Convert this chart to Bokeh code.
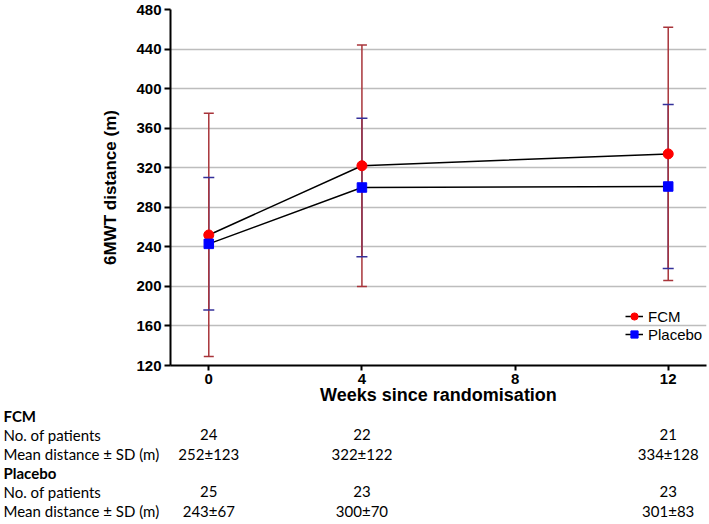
from bokeh.plotting import figure
from bokeh.models import Range1d, FixedTicker, Legend, LegendItem
from bokeh.layouts import column
from bokeh.embed import file_html
from bokeh.resources import INLINE
from bokeh.core.properties import value

# ---- data ----
weeks = [0, 4, 12]
fcm_mean = [252, 322, 334]
fcm_sd = [123, 122, 128]
fcm_n = [24, 22, 21]
pla_mean = [243, 300, 301]
pla_sd = [67, 70, 83]
pla_n = [25, 23, 23]
x_ticks = [0, 4, 8, 12]
y_ticks = [120, 160, 200, 240, 280, 320, 360, 400, 440, 480]
row_labels = ["FCM", "No. of patients", "Mean distance \u00b1 SD (m)",
              "Placebo", "No. of patients", "Mean distance \u00b1 SD  (m)"]
series_names = ["FCM", "Placebo"]

FCM_ERR = "#a8343a"
PLA_ERR = "#34309a"
AX_FONT = "Liberation Sans"
TB_FONT = "Lato"

fcm_lo = [m - s for m, s in zip(fcm_mean, fcm_sd)]
fcm_hi = [m + s for m, s in zip(fcm_mean, fcm_sd)]
pla_lo = [m - s for m, s in zip(pla_mean, pla_sd)]
pla_hi = [m + s for m, s in zip(pla_mean, pla_sd)]

X0, X1 = -1, 13
Y0, Y1 = 120, 480
FW, FH = 536, 356
BL, BR, BT, BB = 170, 3, 9, 40
W = BL + FW + BR
TH = 524 - (BT + FH + BB)

p = figure(frame_width=FW, frame_height=FH, min_border_left=BL, min_border_right=BR,
           min_border_top=BT, min_border_bottom=BB,
           x_range=Range1d(X0, X1), y_range=Range1d(Y0, Y1),
           output_backend="svg", toolbar_location=None)
p.frame_align = False
p.outline_line_color = None
p.background_fill_color = "white"

# grid
p.xgrid.visible = False
p.ygrid.ticker = FixedTicker(ticks=y_ticks)
p.ygrid.grid_line_color = "#bdbdbd"
p.ygrid.grid_line_width = 1.3

# axes
for ax in (p.xaxis[0], p.yaxis[0]):
    ax.axis_line_width = 2
    ax.axis_line_color = "black"
    ax.major_tick_line_width = 2
    ax.major_tick_line_color = "black"
    ax.major_tick_in = 0
    ax.minor_tick_line_color = None
    ax.major_label_text_font = AX_FONT
    ax.major_label_text_font_style = "bold"
    ax.major_label_text_font_size = "15px"
    ax.major_label_text_color = "black"
    ax.axis_label_text_font = AX_FONT
    ax.axis_label_text_font_style = "bold"
    ax.axis_label_text_color = "black"

p.xaxis.ticker = FixedTicker(ticks=x_ticks)
p.xaxis.major_tick_out = 5
p.xaxis.major_label_standoff = 3
p.xaxis.axis_label = "Weeks since randomisation"
p.xaxis.axis_label_standoff = -2
p.xaxis.axis_label_text_font_size = "18px"

p.yaxis.ticker = FixedTicker(ticks=y_ticks)
p.yaxis.major_tick_out = 6
p.yaxis.major_label_standoff = 3
p.yaxis.axis_label = "6MWT distance (m)"
p.yaxis.axis_label_standoff = 13
p.yaxis.axis_label_text_font_size = "17px"

# error bars
p.segment(x0=weeks, y0=pla_lo, x1=weeks, y1=pla_hi, line_color=PLA_ERR, line_width=1.5)
p.segment(x0=weeks, y0=fcm_lo, x1=weeks, y1=fcm_hi, line_color=FCM_ERR, line_width=1.5)
p.scatter(x=weeks + weeks, y=pla_lo + pla_hi, marker="dash", size=11,
          line_color=PLA_ERR, line_width=1.5)
p.scatter(x=weeks + weeks, y=fcm_lo + fcm_hi, marker="dash", size=10,
          line_color=FCM_ERR, line_width=1.5)

# mean lines and markers
l1 = p.line(x=weeks, y=fcm_mean, line_color="black", line_width=1.5)
l2 = p.line(x=weeks, y=pla_mean, line_color="black", line_width=1.5)
m1 = p.scatter(x=weeks, y=fcm_mean, marker="circle", size=10,
               fill_color="#ff0000", line_color="#ff0000")
m2 = p.scatter(x=weeks, y=pla_mean, marker="square", size=9.5,
               fill_color="#0000ff", line_color="#0000ff")

legend = Legend(items=[LegendItem(label=series_names[0], renderers=[l1, m1]),
                       LegendItem(label=series_names[1], renderers=[l2, m2])],
                location=(455, 22))
legend.background_fill_alpha = 0
legend.border_line_color = None
legend.padding = 0
legend.margin = 0
legend.spacing = 0
legend.glyph_width = 18
legend.glyph_height = 18
legend.label_height = 18
legend.label_standoff = 5
legend.label_text_font = AX_FONT
legend.label_text_font_size = "15px"
legend.label_text_color = "black"
p.add_layout(legend, "center")

# ---- table below the chart: its own figure, x scale matched to the chart ----
px_x = FW / (X1 - X0)
tx0 = X0 - BL / px_x
tx1 = X1 + BR / px_x
row_h = 19.0
first = 413.0 - (BT + FH + BB)   # pixel centre of first row inside table figure
t = figure(width=W, height=TH, x_range=Range1d(tx0, tx1),
           y_range=Range1d((TH - first) / row_h, -first / row_h),
           min_border_left=0, min_border_right=0, min_border_top=0, min_border_bottom=0,
           x_axis_type=None, y_axis_type=None,
           output_backend="svg", toolbar_location=None)
t.frame_align = False
t.outline_line_color = None
t.xgrid.visible = False
t.ygrid.visible = False

rows = list(range(len(row_labels)))
bold_rows = [0, 3]
plain_rows = [r for r in rows if r not in bold_rows]
lab_x = tx0 + 3 / px_x
t.text(x=[lab_x] * len(bold_rows), y=bold_rows, text=[row_labels[r] for r in bold_rows],
       text_align="left", text_baseline="middle", text_font=value(TB_FONT),
       text_font_style="bold", text_font_size="15px", text_color="black")
t.text(x=[lab_x] * len(plain_rows), y=plain_rows, text=[row_labels[r] for r in plain_rows],
       text_align="left", text_baseline="middle", text_font=value(TB_FONT),
       text_font_size="15px", text_color="black")

vals_x, vals_y, vals_t = [], [], []
for i, w in enumerate(weeks):
    vals_x += [w, w, w, w]
    vals_y += [1, 2, 4, 5]
    vals_t += [str(fcm_n[i]), f"{fcm_mean[i]}\u00b1{fcm_sd[i]}",
               str(pla_n[i]), f"{pla_mean[i]}\u00b1{pla_sd[i]}"]
t.text(x=vals_x, y=vals_y, text=vals_t, text_align="center", text_baseline="middle",
       text_font=value(TB_FONT), text_font_size="15px", text_color="black")

layout = column(p, t, spacing=0)
open("out.html", "w").write(file_html(layout, INLINE))
